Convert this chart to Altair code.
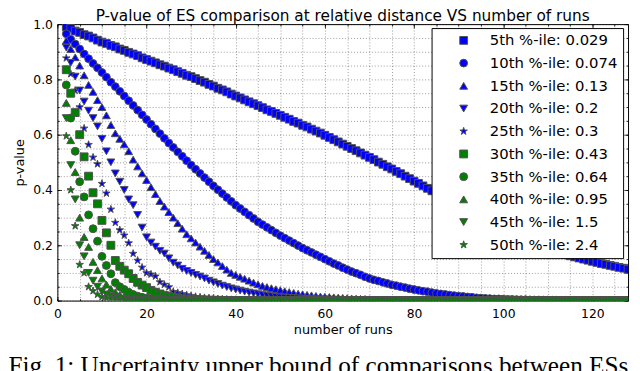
import altair as alt
import pandas as pd

# ---------------- data ----------------
runs = list(range(2, 129))

labels = ["5th %-ile: 0.029", "10th %-ile: 0.074", "15th %-ile: 0.13",
          "20th %-ile: 0.2", "25th %-ile: 0.3", "30th %-ile: 0.43",
          "35th %-ile: 0.64", "40th %-ile: 0.95", "45th %-ile: 1.5",
          "50th %-ile: 2.4"]

p05 = [0.990, 0.985, 0.975, 0.970, 0.962, 0.957, 0.950, 0.942, 0.935,
       0.930, 0.923, 0.918, 0.910, 0.905, 0.898, 0.892, 0.886, 0.878, 0.872,
       0.866, 0.860, 0.853, 0.848, 0.841, 0.835, 0.828, 0.822, 0.815, 0.810,
       0.803, 0.796, 0.790, 0.782, 0.776, 0.768, 0.762, 0.755, 0.747, 0.740,
       0.733, 0.726, 0.719, 0.712, 0.705, 0.698, 0.690, 0.684, 0.677, 0.670,
       0.663, 0.656, 0.648, 0.642, 0.634, 0.628, 0.620, 0.613, 0.606, 0.598,
       0.590, 0.582, 0.574, 0.566, 0.558, 0.550, 0.542, 0.534, 0.526, 0.518,
       0.510, 0.501, 0.493, 0.484, 0.476, 0.467, 0.459, 0.450, 0.441, 0.432,
       0.424, 0.415, 0.406, 0.397, 0.388, 0.379, 0.370, 0.361, 0.352, 0.343,
       0.335, 0.326, 0.317, 0.308, 0.300, 0.291, 0.283, 0.275, 0.267, 0.259,
       0.251, 0.244, 0.236, 0.229, 0.222, 0.215, 0.208, 0.201, 0.195, 0.189,
       0.183, 0.177, 0.172, 0.167, 0.162, 0.158, 0.154, 0.150, 0.146, 0.142,
       0.138, 0.134, 0.131, 0.127, 0.124, 0.120, 0.117, 0.113]

p10 = [0.965, 0.945, 0.928, 0.910, 0.892, 0.875, 0.858, 0.842, 0.825,
       0.808, 0.790, 0.774, 0.757, 0.740, 0.723, 0.706, 0.689, 0.672, 0.655,
       0.638, 0.621, 0.604, 0.587, 0.570, 0.554, 0.538, 0.522, 0.506, 0.490,
       0.475, 0.460, 0.445, 0.430, 0.415, 0.401, 0.387, 0.373, 0.359, 0.345,
       0.333, 0.321, 0.309, 0.297, 0.285, 0.275, 0.265, 0.255, 0.245, 0.235,
       0.226, 0.217, 0.208, 0.199, 0.190, 0.182, 0.174, 0.166, 0.158, 0.150,
       0.142, 0.134, 0.127, 0.119, 0.112, 0.105, 0.099, 0.093, 0.086, 0.080,
       0.075, 0.071, 0.066, 0.062, 0.057, 0.054, 0.050, 0.047, 0.043, 0.040,
       0.037, 0.034, 0.032, 0.029, 0.026, 0.024, 0.022, 0.020, 0.018, 0.016,
       0.015, 0.013, 0.012, 0.010, 0.009, 0.008, 0.007, 0.006, 0.006, 0.005,
       0.0045, 0.004, 0.0035, 0.003, 0.003, 0.0025, 0.002, 0.002, 0.0018, 0.0015,
       0.0014, 0.0012, 0.0011, 0.001, 0.001, 0.0009, 0.0008, 0.0007, 0.0006, 0.0005,
       0.0005, 0.0004, 0.0004, 0.0003, 0.0003, 0.0003, 0.0002, 0.0002]

p15 = [0.940, 0.910, 0.880, 0.850, 0.815, 0.780, 0.755, 0.725, 0.700,
       0.670, 0.635, 0.605, 0.585, 0.565, 0.540, 0.510, 0.485, 0.460, 0.436,
       0.410, 0.385, 0.360, 0.340, 0.320, 0.300, 0.280, 0.260, 0.240, 0.225,
       0.210, 0.195, 0.180, 0.165, 0.150, 0.138, 0.125, 0.112, 0.100, 0.093,
       0.086, 0.079, 0.072, 0.065, 0.059, 0.053, 0.049, 0.045, 0.041, 0.038,
       0.034, 0.031, 0.028, 0.025, 0.023, 0.021, 0.019, 0.017, 0.015, 0.014,
       0.013, 0.012, 0.011, 0.010, 0.009, 0.008, 0.007, 0.0065, 0.006, 0.005,
       0.0045, 0.004, 0.0038, 0.0035, 0.003, 0.0028, 0.0025, 0.0023, 0.002, 0.002,
       0.0018, 0.0016, 0.0015, 0.0013, 0.0012, 0.001, 0.001, 0.0009, 0.0008, 0.0007,
       0.0006, 0.0006, 0.0005, 0.0005, 0.0004, 0.0004, 0.0003, 0.0003, 0.0003, 0.0002,
       0.0002, 0.0002, 0.0001, 0.0001, 0.0001, 0, 0, 0, 0, 0,
       0, 0, 0, 0, 0, 0, 0, 0, 0, 0,
       0, 0, 0, 0, 0, 0, 0, 0]

p20 = [0.915, 0.860, 0.810, 0.760, 0.720, 0.687, 0.660, 0.630, 0.585,
       0.540, 0.500, 0.460, 0.430, 0.400, 0.366, 0.345, 0.310, 0.264, 0.229,
       0.210, 0.195, 0.180, 0.170, 0.153, 0.137, 0.127, 0.115, 0.107, 0.100,
       0.093, 0.087, 0.080, 0.072, 0.066, 0.060, 0.054, 0.049, 0.044, 0.040,
       0.036, 0.032, 0.029, 0.026, 0.023, 0.020, 0.018, 0.016, 0.014, 0.012,
       0.011, 0.010, 0.009, 0.008, 0.007, 0.006, 0.0055, 0.005, 0.0045, 0.004,
       0.0035, 0.003, 0.0028, 0.0025, 0.0022, 0.002, 0.0018, 0.0016, 0.0014, 0.0012,
       0.001, 0.001, 0.0009, 0.0008, 0.0007, 0.0006, 0.0005, 0.0005, 0.0004, 0.0004,
       0.0003, 0.0003, 0.0002, 0.0002, 0.0002, 0.0001, 0.0001, 0, 0, 0,
       0, 0, 0, 0, 0, 0, 0, 0, 0, 0,
       0, 0, 0, 0, 0, 0, 0, 0, 0, 0,
       0, 0, 0, 0, 0, 0, 0, 0, 0, 0,
       0, 0, 0, 0, 0, 0, 0, 0]

p25 = [0.877, 0.820, 0.760, 0.700, 0.623, 0.564, 0.518, 0.494, 0.423,
       0.388, 0.330, 0.282, 0.255, 0.236, 0.208, 0.170, 0.145, 0.120, 0.100,
       0.095, 0.088, 0.067, 0.058, 0.049, 0.032, 0.028, 0.024, 0.020, 0.017,
       0.014, 0.012, 0.010, 0.009, 0.008, 0.006, 0.005, 0.004, 0.003, 0.003,
       0.002, 0.002, 0.0015, 0.0012, 0.001, 0.001, 0.0008, 0.0006, 0.0005, 0.0004,
       0.0003, 0.0002, 0.0002, 0.0001, 0.0001, 0, 0, 0, 0, 0,
       0, 0, 0, 0, 0, 0, 0, 0, 0, 0,
       0, 0, 0, 0, 0, 0, 0, 0, 0, 0,
       0, 0, 0, 0, 0, 0, 0, 0, 0, 0,
       0, 0, 0, 0, 0, 0, 0, 0, 0, 0,
       0, 0, 0, 0, 0, 0, 0, 0, 0, 0,
       0, 0, 0, 0, 0, 0, 0, 0, 0, 0,
       0, 0, 0, 0, 0, 0, 0, 0]

p30 = [0.835, 0.750, 0.680, 0.600, 0.520, 0.450, 0.390, 0.350, 0.290,
       0.245, 0.200, 0.145, 0.124, 0.110, 0.097, 0.080, 0.066, 0.056, 0.047,
       0.037, 0.030, 0.024, 0.019, 0.015, 0.012, 0.009, 0.007, 0.005, 0.004,
       0.003, 0.0025, 0.002, 0.0015, 0.001, 0.0008, 0.0006, 0.0005, 0.0004, 0.0003,
       0.0002, 0.0002, 0.0001, 0.0001, 0, 0, 0, 0, 0, 0,
       0, 0, 0, 0, 0, 0, 0, 0, 0, 0,
       0, 0, 0, 0, 0, 0, 0, 0, 0, 0,
       0, 0, 0, 0, 0, 0, 0, 0, 0, 0,
       0, 0, 0, 0, 0, 0, 0, 0, 0, 0,
       0, 0, 0, 0, 0, 0, 0, 0, 0, 0,
       0, 0, 0, 0, 0, 0, 0, 0, 0, 0,
       0, 0, 0, 0, 0, 0, 0, 0, 0, 0,
       0, 0, 0, 0, 0, 0, 0, 0]

p35 = [0.780, 0.660, 0.540, 0.430, 0.375, 0.310, 0.260, 0.215, 0.160,
       0.127, 0.097, 0.065, 0.050, 0.040, 0.030, 0.022, 0.016, 0.012, 0.009,
       0.007, 0.005, 0.004, 0.003, 0.002, 0.0015, 0.001, 0.0008, 0.0006, 0.0004,
       0.0003, 0.0002, 0.0001, 0.0001, 0, 0, 0, 0, 0, 0,
       0, 0, 0, 0, 0, 0, 0, 0, 0, 0,
       0, 0, 0, 0, 0, 0, 0, 0, 0, 0,
       0, 0, 0, 0, 0, 0, 0, 0, 0, 0,
       0, 0, 0, 0, 0, 0, 0, 0, 0, 0,
       0, 0, 0, 0, 0, 0, 0, 0, 0, 0,
       0, 0, 0, 0, 0, 0, 0, 0, 0, 0,
       0, 0, 0, 0, 0, 0, 0, 0, 0, 0,
       0, 0, 0, 0, 0, 0, 0, 0, 0, 0,
       0, 0, 0, 0, 0, 0, 0, 0]

p40 = [0.715, 0.580, 0.465, 0.300, 0.230, 0.194, 0.140, 0.110, 0.080,
       0.058, 0.042, 0.030, 0.021, 0.015, 0.011, 0.008, 0.006, 0.004, 0.003,
       0.002, 0.0015, 0.001, 0.0008, 0.0006, 0.0004, 0.0003, 0.0002, 0.0001, 0.0001,
       0, 0, 0, 0, 0, 0, 0, 0, 0, 0,
       0, 0, 0, 0, 0, 0, 0, 0, 0, 0,
       0, 0, 0, 0, 0, 0, 0, 0, 0, 0,
       0, 0, 0, 0, 0, 0, 0, 0, 0, 0,
       0, 0, 0, 0, 0, 0, 0, 0, 0, 0,
       0, 0, 0, 0, 0, 0, 0, 0, 0, 0,
       0, 0, 0, 0, 0, 0, 0, 0, 0, 0,
       0, 0, 0, 0, 0, 0, 0, 0, 0, 0,
       0, 0, 0, 0, 0, 0, 0, 0, 0, 0,
       0, 0, 0, 0, 0, 0, 0, 0]

p45 = [0.660, 0.490, 0.366, 0.200, 0.160, 0.100, 0.072, 0.050, 0.033,
       0.022, 0.015, 0.010, 0.007, 0.005, 0.003, 0.002, 0.0015, 0.001, 0.0007,
       0.0005, 0.0003, 0.0002, 0.0001, 0, 0, 0, 0, 0, 0,
       0, 0, 0, 0, 0, 0, 0, 0, 0, 0,
       0, 0, 0, 0, 0, 0, 0, 0, 0, 0,
       0, 0, 0, 0, 0, 0, 0, 0, 0, 0,
       0, 0, 0, 0, 0, 0, 0, 0, 0, 0,
       0, 0, 0, 0, 0, 0, 0, 0, 0, 0,
       0, 0, 0, 0, 0, 0, 0, 0, 0, 0,
       0, 0, 0, 0, 0, 0, 0, 0, 0, 0,
       0, 0, 0, 0, 0, 0, 0, 0, 0, 0,
       0, 0, 0, 0, 0, 0, 0, 0, 0, 0,
       0, 0, 0, 0, 0, 0, 0, 0]

p50 = [0.595, 0.400, 0.270, 0.130, 0.100, 0.050, 0.035, 0.022, 0.014,
       0.009, 0.006, 0.004, 0.0025, 0.0016, 0.001, 0.0006, 0.0004, 0.0002, 0.0001,
       0, 0, 0, 0, 0, 0, 0, 0, 0, 0,
       0, 0, 0, 0, 0, 0, 0, 0, 0, 0,
       0, 0, 0, 0, 0, 0, 0, 0, 0, 0,
       0, 0, 0, 0, 0, 0, 0, 0, 0, 0,
       0, 0, 0, 0, 0, 0, 0, 0, 0, 0,
       0, 0, 0, 0, 0, 0, 0, 0, 0, 0,
       0, 0, 0, 0, 0, 0, 0, 0, 0, 0,
       0, 0, 0, 0, 0, 0, 0, 0, 0, 0,
       0, 0, 0, 0, 0, 0, 0, 0, 0, 0,
       0, 0, 0, 0, 0, 0, 0, 0, 0, 0,
       0, 0, 0, 0, 0, 0, 0, 0]

series = [p05, p10, p15, p20, p25, p30, p35, p40, p45, p50]

colors = ["#0000ff", "#0000ff", "#0000ff", "#0000ff", "#0000ff",
          "#008000", "#008000", "#008000", "#008000", "#008000"]
STAR = ("M0,-1L0.224,-0.309L0.951,-0.309L0.363,0.118L0.588,0.809L0,0.382"
        "L-0.588,0.809L-0.363,0.118L-0.951,-0.309L-0.224,-0.309Z")
shapes = ["square", "circle", "triangle-up", "triangle-down", STAR,
          "square", "circle", "triangle-up", "triangle-down", STAR]
sizes = [62, 64, 60, 60, 85, 62, 64, 60, 60, 85]

x_major = [0, 20, 40, 60, 80, 100, 120]
x_minor = [0, 5, 10, 15, 20, 25, 30, 35, 40, 45, 50, 55, 60, 65, 70, 75,
           80, 85, 90, 95, 100, 105, 110, 115, 120, 125]
y_major = [0.0, 0.2, 0.4, 0.6, 0.8, 1.0]
y_minor = [0.0, 0.05, 0.1, 0.15, 0.2, 0.25, 0.3, 0.35, 0.4, 0.45, 0.5,
           0.55, 0.6, 0.65, 0.7, 0.75, 0.8, 0.85, 0.9, 0.95, 1.0]

title_text = "P-value of ES comparison at relative distance VS number of runs"
caption_text = "Fig. 1: Uncertainty upper bound of comparisons between ESs"

rows = []
for lab, vals in zip(labels, series):
    for n, p in zip(runs, vals):
        rows.append({"n": n, "p": p, "s": lab})
df = pd.DataFrame(rows)

# ---------------- chart ----------------
FONT = "DejaVu Sans"
PLOT_W = 578
PLOT_H = 280
EDGE = "#505050"
xs = alt.Scale(domain=[0, 128], nice=False, zero=False)
ys = alt.Scale(domain=[0, 1], nice=False, zero=False)

legend = alt.Legend(
    title=None, orient="none", legendX=379, legendY=4, direction="vertical",
    fillColor="white", strokeColor="black", padding=5, cornerRadius=0,
    labelFont=FONT, labelFontSize=15, labelColor="black", labelLimit=300,
    symbolSize=60, symbolStrokeColor=EDGE, symbolStrokeWidth=1.0,
    symbolOffset=20, labelOffset=19, rowPadding=7.0,
)

points = alt.Chart(df).mark_point(
    filled=True, opacity=1, stroke=EDGE, strokeWidth=1.0, clip=True
).encode(
    x=alt.X("n:Q", scale=xs, axis=alt.Axis(
        orient="bottom", values=x_minor, grid=True, ticks=False, domain=False,
        labelExpr="datum.value % 20 === 0 ? datum.label : ''",
        labelOverlap=False, labelFlush=False, labelBound=False,
        labelPadding=7, title="number of runs", titlePadding=4)),
    y=alt.Y("p:Q", scale=ys, axis=alt.Axis(
        orient="left", values=y_minor, grid=True, ticks=False, domain=False,
        labelExpr="abs(datum.value * 5 - round(datum.value * 5)) < 0.001 ? format(datum.value, '.1f') : ''",
        labelOverlap=False, labelFlush=False, labelBound=False,
        labelPadding=5, title="p-value", titlePadding=6)),
    color=alt.Color("s:N", sort=labels,
                    scale=alt.Scale(domain=labels, range=colors), legend=legend),
    shape=alt.Shape("s:N", sort=labels,
                    scale=alt.Scale(domain=labels, range=shapes), legend=legend),
    size=alt.Size("s:N", scale=alt.Scale(domain=labels, range=sizes), legend=None),
)

dummy = pd.DataFrame({"n": [0], "p": [0]})


def tick_layer(xorient, yorient, xvals, yvals, length):
    return alt.Chart(dummy).mark_point(opacity=0).encode(
        x=alt.X("n:Q", scale=xs, axis=alt.Axis(
            orient=xorient, values=xvals, offset=-length, tickSize=length,
            labels=False, domain=False, grid=False, title=None,
            tickColor="black", tickWidth=0.8)),
        y=alt.Y("p:Q", scale=ys, axis=alt.Axis(
            orient=yorient, values=yvals, offset=-length, tickSize=length,
            labels=False, domain=False, grid=False, title=None,
            tickColor="black", tickWidth=0.8)),
    )


t_bl_major = tick_layer("bottom", "left", x_major, y_major, 4)
t_bl_minor = tick_layer("bottom", "left", x_minor, y_minor, 2)
t_tr_major = tick_layer("top", "right", x_major, y_major, 4)
t_tr_minor = tick_layer("top", "right", x_minor, y_minor, 2)

title = alt.Chart(pd.DataFrame({"t": [title_text]})).mark_text(
    align="center", baseline="alphabetic", font=FONT,
    fontSize=15.5, color="black"
).encode(x=alt.value(PLOT_W / 2), y=alt.value(-3), text="t:N")

caption = alt.Chart(pd.DataFrame({"t": [caption_text]})).mark_text(
    align="left", baseline="alphabetic", font="Liberation Serif",
    fontSize=25.5, color="black"
).encode(x=alt.value(-49.5), y=alt.value(354), text="t:N")

chart = alt.layer(
    points, t_bl_major, t_bl_minor, t_tr_major, t_tr_minor, title, caption
).resolve_axis(
    x="independent", y="independent"
).properties(
    width=PLOT_W, height=PLOT_H,
    padding={"left": 50, "top": 14, "right": 4, "bottom": 69},
    autosize=alt.AutoSizeParams(type="none"),
).configure_view(
    stroke="black", strokeWidth=1
).configure_axis(
    labelFont=FONT, labelFontSize=12.5, labelColor="black",
    titleFont=FONT, titleFontSize=13, titleFontWeight="normal", titleColor="black",
    gridColor="black", gridDash=[1, 2], gridWidth=0.5, gridOpacity=0.8,
)

chart.save("out.html", embed_options={"renderer": "svg", "actions": False})
